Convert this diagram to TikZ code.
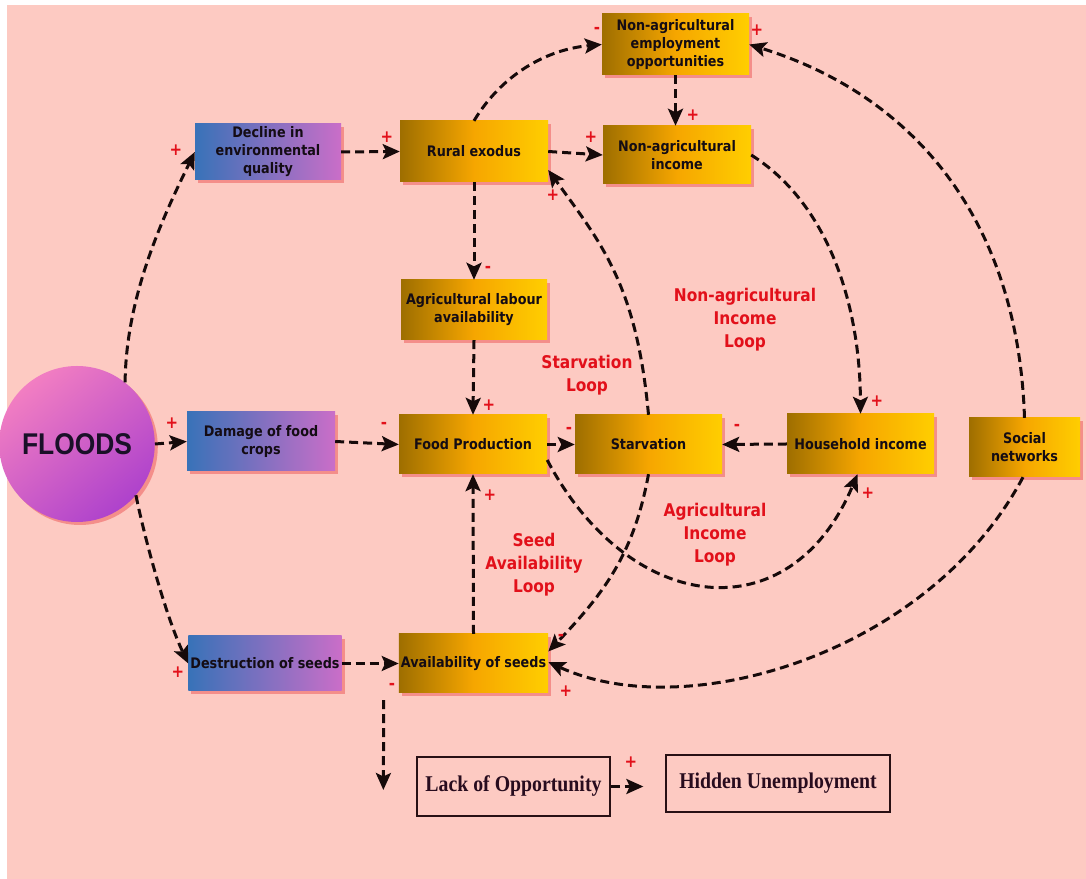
\documentclass[tikz,border=0pt]{standalone}
\usepackage{fontspec}
\usetikzlibrary{arrows.meta,shadows,shapes.geometric}
\newfontfamily\boxfont[FakeStretch=0.88]{DejaVu Sans}
\newfontfamily\floodfont[FakeStretch=0.88]{Liberation Sans}
\newfontfamily\timesfont[FakeStretch=0.88]{Liberation Serif}

\definecolor{bgpink}{RGB}{253,202,194}
\definecolor{oA}{RGB}{158,110,0}
\definecolor{oB}{RGB}{246,166,0}
\definecolor{oC}{RGB}{255,206,0}
\definecolor{bA}{RGB}{56,114,184}
\definecolor{bB}{RGB}{202,110,200}
\definecolor{fA}{RGB}{242,126,194}
\definecolor{fB}{RGB}{174,66,204}
\definecolor{shadowred}{RGB}{235,70,70}
\definecolor{boxtext}{RGB}{20,12,20}
\definecolor{signred}{RGB}{226,16,26}
\definecolor{linkcol}{RGB}{22,10,10}

\tikzset{
  shad/.style={drop shadow={shadow xshift=3bp, shadow yshift=-3bp, fill=shadowred, opacity=.45}},
  box/.style={rectangle, minimum width=147bp, minimum height=59bp, inner sep=2bp,
    align=center, text=boxtext, shad,
    font=\boxfont\bfseries\fontsize{14.5bp}{18bp}\selectfont},
  obox/.style={box, left color=oA, right color=oC, middle color=oB},
  bbox/.style={box, left color=bA, right color=bB},
  plainbox/.style={rectangle, draw={rgb,255:red,40;green,16;blue,20}, line width=1.3bp,
    inner sep=2bp, text={rgb,255:red,40;green,12;blue,30},
    font=\timesfont\bfseries\fontsize{22.5bp}{26bp}\selectfont},
  sgn/.style={inner sep=0pt, text=signred,
    font=\boxfont\bfseries\fontsize{17bp}{17bp}\selectfont},
  looplbl/.style={align=center, text=signred, inner sep=0pt,
    font=\boxfont\bfseries\fontsize{17.5bp}{23bp}\selectfont},
  link/.style={draw=linkcol, line width=3bp, dash pattern=on 9bp off 5bp,
    -{Stealth[length=17bp, width=15bp, inset=3.5bp]}}
}

\begin{document}
\begin{tikzpicture}[x=1bp,y=1bp]
\useasboundingbox (0,0) rectangle (1086,879);
\fill[white] (0,0) rectangle (1086,879);
\fill[bgpink] (7,0) rectangle (1086,874);

% source
\node[ellipse, minimum width=130bp, minimum height=156bp, inner sep=0pt,
  top color=fA, bottom color=fB, shading angle=40, shad,
  text={rgb,255:red,26;green,16;blue,40},
  font=\floodfont\bfseries\fontsize{30bp}{30bp}\selectfont] (floods) at (77,435) {FLOODS};

% first-order effects
\node[bbox, minimum width=146bp, minimum height=56bp] (decline) at (268,727) {Decline in\\environmental\\quality};
\node[bbox, minimum width=148bp] (damage) at (261,437.5) {Damage of food\\crops};
\node[bbox, minimum width=146bp, minimum height=55bp] (destr) at (265,215.5) {Destruction of seeds};

% system variables
\node[obox, minimum width=148bp, minimum height=61bp] (rural) at (474,727.5) {Rural exodus};
\node[obox, minimum height=61bp] (nonagemp) at (675.5,834.5) {Non-agricultural\\employment\\opportunities};
\node[obox, minimum width=148bp, minimum height=58bp] (nonaginc) at (677,724) {Non-agricultural\\income};
\node[obox, minimum width=146bp, minimum height=60bp] (labour) at (474,569) {Agricultural labour\\availability};
\node[obox, minimum width=148bp] (food) at (473,434.5) {Food Production};
\node[obox] (starv) at (648.5,434.5) {Starvation};
\node[obox, minimum height=60bp] (house) at (860.5,435) {Household income};
\node[obox, minimum width=111bp] (social) at (1024.5,431.5) {Social\\networks};
\node[obox, minimum width=149bp] (avail) at (473.5,215.5) {Availability of seeds};

% outcomes
\node[plainbox, minimum width=193bp, minimum height=59bp] (lack) at (513.5,92.5) {Lack of Opportunity};
\node[plainbox, minimum width=224bp, minimum height=57bp] (hidden) at (778,95.5) {Hidden Unemployment};

% loop names
\node[looplbl] (loopNA) at (745,559) {Non-agricultural\\Income\\Loop};
\node[looplbl] (loopST) at (587,503.5) {Starvation\\Loop};
\node[looplbl] (loopAI) at (715,344.5) {Agricultural\\Income\\Loop};
\node[looplbl] (loopSA) at (534,314) {Seed\\Availability\\Loop};

% straight links
\draw[link] (floods.east) -- (damage.west);
\draw[link] (decline.east) -- (rural.west);
\draw[link] (rural.east) -- (nonaginc.west);
\draw[link] (nonagemp.south) -- (nonagemp.south |- nonaginc.north);
\draw[link] (rural.south) -- (labour.north);
\draw[link] (labour.south) -- (food.north);
\draw[link] (damage.east) -- (food.west);
\draw[link] (food.east) -- (starv.west);
\draw[link] (house.west) -- (starv.east);
\draw[link] (avail.north) -- (food.south);
\draw[link] (destr.east) -- (avail.west);

% curved links
\draw[link] (floods.52) .. controls (126,584) and (164,664) .. (decline.west);
\draw[link] (floods.-41) .. controls (144.6,341) and (166,262) .. (destr.west);
\draw[link] (rural.north) .. controls (502.3,805) and (547,829.7) .. (nonagemp.west);
\draw[link] (starv.north) .. controls (636.7,593.5) and (601.7,635.3) .. ([yshift=-18.5bp]rural.east);
\draw[link] (nonaginc.east) .. controls (828,675.6) and (860,575) .. (house.north);
\draw[link] (social.north) .. controls (1018,661) and (912.5,784) .. (nonagemp.east);
\draw[link] ([yshift=-15.5bp]food.east) .. controls (629,264) and (790,244) .. ([xshift=-3bp]house.south);
\draw[link] (starv.south) .. controls (634,326) and (605,286.5) .. ([yshift=12bp]avail.east);
\draw[link] ([xshift=-1.5bp]social.south) .. controls (929,225) and (686,153.6) .. ([yshift=1.5bp]avail.east);

% links to the outcomes
\coordinate (dropA) at ([xshift=-15bp,yshift=-7bp]avail.south west);
\coordinate (dropB) at ([xshift=-33bp,yshift=-3.5bp]lack.west);
\draw[link] (dropA) -- (dropB);
\draw[link, shorten >=22bp] (lack.east) -- (lack.east -| hidden.west);

% polarities
\node[sgn] (p1) at (176,729) {+};
\node[sgn] (p2) at (172,456) {+};
\node[sgn] (p3) at (178,207) {+};
\node[sgn] (p4) at (387,742) {+};
\node[sgn] (p5) at (597,849) {-};
\node[sgn] (p6) at (757,849) {+};
\node[sgn] (p7) at (591,742) {+};
\node[sgn] (p8) at (693,764) {+};
\node[sgn] (p9) at (553,684) {+};
\node[sgn] (p10) at (488,610) {-};
\node[sgn] (p11) at (489,474) {+};
\node[sgn] (p12) at (384,454) {-};
\node[sgn] (p13) at (569,449) {-};
\node[sgn] (p14) at (737,452) {-};
\node[sgn] (p15) at (877,478) {+};
\node[sgn] (p16) at (868,386) {+};
\node[sgn] (p17) at (490,384) {+};
\node[sgn] (p18) at (561,242) {-};
\node[sgn] (p19) at (566,188) {+};
\node[sgn] (p20) at (392,193) {-};
\node[sgn] (p21) at (631,117) {+};
\end{tikzpicture}
\end{document}
